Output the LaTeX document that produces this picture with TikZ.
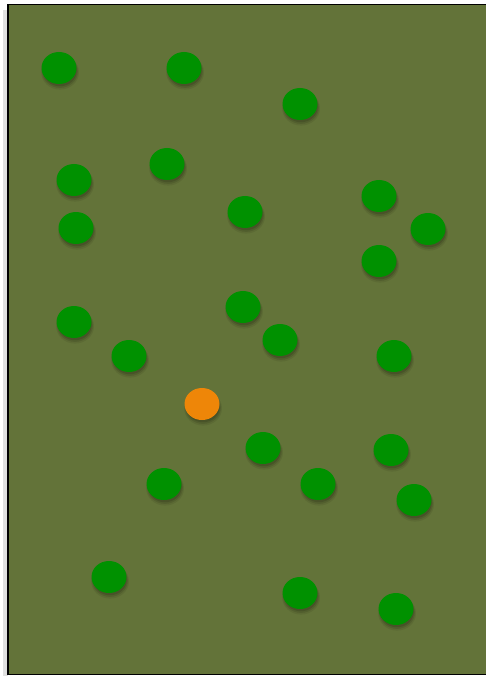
\documentclass[tikz,border=0pt]{standalone}
\usetikzlibrary{shadows,shapes.geometric}
\definecolor{fieldgreen}{HTML}{637339}
\definecolor{dotgreen}{HTML}{009100}
\definecolor{dotorange}{HTML}{EE8608}

\begin{document}
\begin{tikzpicture}[x=1pt,y=-1pt,
  field/.style={draw=black,line width=1.4pt,fill=fieldgreen},
  dot/.style={ellipse,minimum width=35pt,minimum height=32pt,inner sep=0pt,fill=dotgreen,
    drop shadow={shadow xshift=1pt,shadow yshift=-4pt,shadow scale=1.08,opacity=0.07,fill=black},
    drop shadow={shadow xshift=1pt,shadow yshift=-3.5pt,shadow scale=1.02,opacity=0.1,fill=black},
    drop shadow={shadow xshift=1pt,shadow yshift=-3pt,shadow scale=0.96,opacity=0.12,fill=black}},
  seeker/.style={dot,fill=dotorange}]

\useasboundingbox (0,0) rectangle (485,676);
\fill[black!12] (3,10) rectangle (8,676);
\draw[field] (8,4.5) rectangle (492,674.5);

% green dots
\foreach \n/\x/\y in {1/59/68,2/184/68,3/300/104,4/74/180,5/167/164,6/245/212,
  7/379/196,8/428/229,9/76/228,10/379/261,11/74/322,12/243/307,13/280/340,
  14/129/356,15/394/356,17/263/448,18/391/450,19/164/484,20/318/484,
  21/414/500,22/109/577,23/300/593,24/396/609}
  \node[dot] (d\n) at (\x,\y) {};

% orange dot
\node[seeker] (d16) at (202,404) {};
\end{tikzpicture}
\end{document}
